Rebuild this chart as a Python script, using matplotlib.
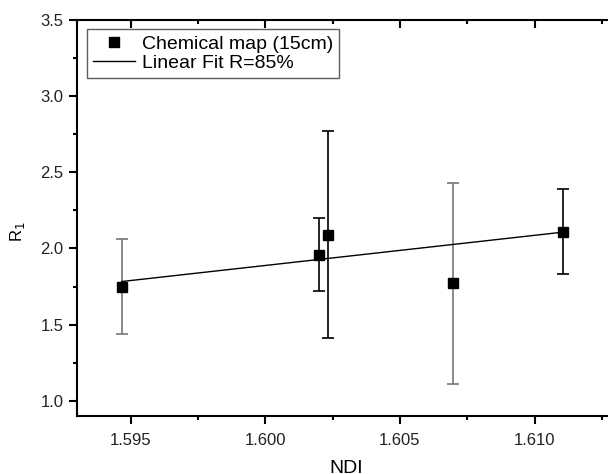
import numpy as np
import matplotlib.pyplot as plt
from matplotlib.ticker import MultipleLocator

plt.rcParams['font.family'] = ['Liberation Sans', 'DejaVu Sans']

# data
ndi = [1.59467, 1.60199, 1.60234, 1.60697, 1.61106]
r1 = [1.75, 1.96, 2.09, 1.77, 2.11]
r1_err = [0.31, 0.24, 0.68, 0.66, 0.28]
bar_colors = ['#777777', 'black', 'black', '#777777', 'black']

fig = plt.figure(figsize=(6.08, 4.74), dpi=100)
ax = fig.add_axes([76.7/608, 58/474, (615.5-76.7)/608, (416-20)/474])

# error bars, one at a time so each can keep its own colour
for x, y, e, c in zip(ndi, r1, r1_err, bar_colors):
    ax.errorbar(x, y, yerr=e, fmt='none', ecolor=c, elinewidth=1.2,
                capsize=4.5, capthick=1.2, zorder=2)

pts, = ax.plot(ndi, r1, 's', color='black', markersize=7, zorder=3,
               label='Chemical map (15cm)')

# weighted linear fit
w = 1.0 / np.array(r1_err)
k, b = np.polyfit(ndi, r1, 1, w=w)
xf = np.array([min(ndi), max(ndi)])
fit, = ax.plot(xf, k*xf + b, color='black', linewidth=1.0, zorder=2,
               label='Linear Fit R=85%')

ax.set_xlim(1.593, 1.613)
ax.set_ylim(0.9, 3.5)
ax.xaxis.set_major_locator(MultipleLocator(0.005))
ax.xaxis.set_minor_locator(MultipleLocator(0.0025))
ax.yaxis.set_major_locator(MultipleLocator(0.5))
ax.yaxis.set_minor_locator(MultipleLocator(0.25))
ax.xaxis.set_major_formatter(plt.FormatStrFormatter('%.3f'))
ax.yaxis.set_major_formatter(plt.FormatStrFormatter('%.1f'))

for s in ax.spines.values():
    s.set_linewidth(1.5)
ax.tick_params(which='both', direction='out', width=1.5, labelsize=12,
               labelcolor='#222222', top=True, right=True)
ax.tick_params(which='major', length=6)
ax.tick_params(which='minor', length=3)
ax.tick_params(axis='x', pad=6)
# top/right ticks point inward
for t in ax.xaxis.get_major_ticks() + ax.xaxis.get_minor_ticks():
    t.tick2line.set_marker(3)
for t in ax.yaxis.get_major_ticks() + ax.yaxis.get_minor_ticks():
    t.tick2line.set_marker(0)

ax.set_xlabel('NDI', fontsize=14, labelpad=9)
ax.set_ylabel('R$_1$', fontsize=12)
ax.yaxis.set_label_coords(-0.092, 0.465)

leg = ax.legend(handles=[pts, fit], loc='upper left',
                bbox_to_anchor=(86.7/608, 1 - 29.3/474),
                bbox_transform=fig.transFigure, borderaxespad=0,
                fontsize=14, frameon=True, fancybox=False,
                handlelength=2.2, handletextpad=0.35, borderpad=0.3,
                labelspacing=0.1, numpoints=1)
leg.get_frame().set_edgecolor('#333333')
leg.get_frame().set_linewidth(1.0)

fig.savefig('out.png', dpi=100)
